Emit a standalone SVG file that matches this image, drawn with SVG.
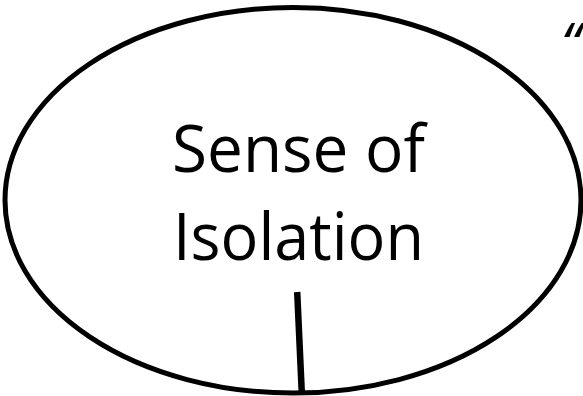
<svg xmlns="http://www.w3.org/2000/svg" width="583" height="396" viewBox="0 0 583 396">
<style>
.lbl{font-family:"Open Sans","Liberation Sans",sans-serif;font-size:66px;fill:#000;text-anchor:middle}
.q{font-family:"Open Sans","Liberation Sans",sans-serif;font-size:56px;font-style:italic;fill:#000}
</style>
<rect width="583" height="396" fill="#fff"/>
<g id="node-isolation">
<ellipse cx="293" cy="200.3" rx="288" ry="192.8" fill="#fff" stroke="#000" stroke-width="5"/>
<text class="lbl" x="298.5" y="172" textLength="253" lengthAdjust="spacingAndGlyphs">Sense of</text>
<text class="lbl" x="298.5" y="260" textLength="251" lengthAdjust="spacingAndGlyphs">Isolation</text>
</g>
<g id="connectors">
<line x1="297.2" y1="292" x2="301.8" y2="393" stroke="#000" stroke-width="6.5"/>
</g>
<g id="quote">
<text class="q" x="561" y="64">“</text>
</g>
</svg>
